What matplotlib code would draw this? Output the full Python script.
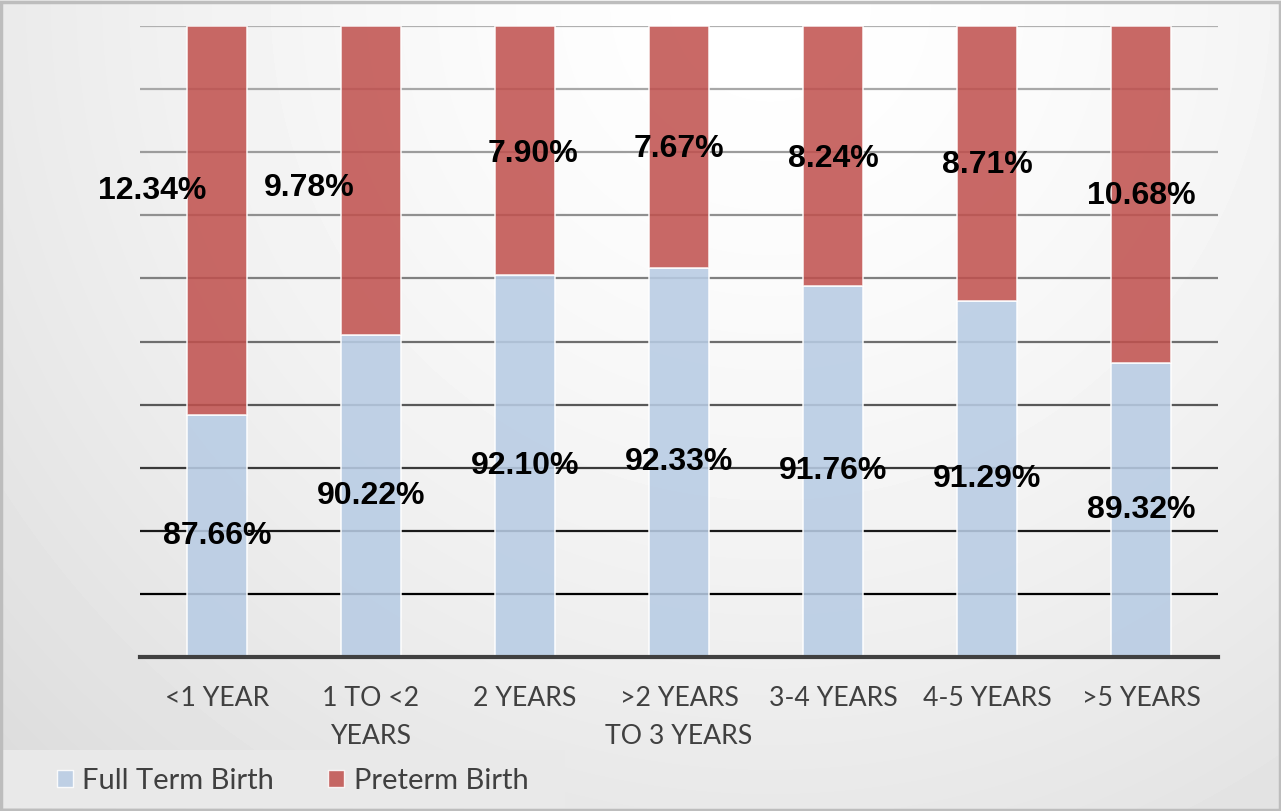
import numpy as np
import matplotlib.pyplot as plt
from matplotlib.patches import Rectangle, Patch

categories = ["<1 YEAR", "1 TO <2\nYEARS", "2 YEARS", ">2 YEARS\nTO 3 YEARS",
              "3-4 YEARS", "4-5 YEARS", ">5 YEARS"]
full_term = [87.66, 90.22, 92.10, 92.33, 91.76, 91.29, 89.32]
preterm = [12.34, 9.78, 7.90, 7.67, 8.24, 8.71, 10.68]

# petits décalages des étiquettes "preterm" (comme sur l'original)
pre_dx = [-0.42, -0.40, 0.05, 0.0, 0.0, 0.0, 0.0]
pre_dy = [0.95, -0.25, -0.1, -0.05, -0.1, -0.05, -0.05]

W, H = 1281, 811
fig = plt.figure(figsize=(W / 100, H / 100), dpi=100)

# fond dégradé
bg = fig.add_axes([0, 0, 1, 1], zorder=-10)
yy, xx = np.mgrid[0:H, 0:W]
d = np.sqrt((xx - 770.0) ** 2 + (yy - 0.0) ** 2) / 1000.0
v = np.clip(255 - 31 * d ** 1.5, 0, 255) / 255.0
bg.imshow(v, cmap="gray", vmin=0, vmax=1, aspect="auto", interpolation="bilinear")
bg.axis("off")

# boîte de légende + cadre
fig.patches.append(Rectangle((3 / W, 3 / H), 562 / W, 58 / H, transform=fig.transFigure,
                             facecolor="#e9e9e9", edgecolor="none", zorder=-5))
fig.patches.append(Rectangle((0.001, 0.001), 0.998, 0.997, transform=fig.transFigure,
                             facecolor="none", edgecolor="#bdbdbd", lw=2.5, zorder=10))

ax = fig.add_axes([140 / W, (H - 657) / H, 1078 / W, 631 / H])
ax.patch.set_alpha(0)
x = np.arange(len(categories))
ymin, ymax = 80, 100

grid_levels = np.arange(82, 101, 2)
grid_cols = ["#000000", "#1a1a1a", "#3a3a3a", "#585858", "#6e6e6e",
             "#808080", "#909090", "#9c9c9c", "#a8a8a8", "#b0b0b0"]
for lev, c in zip(grid_levels, grid_cols):
    ax.axhline(lev, color=c, lw=1.6, zorder=0)

w = 0.39
ax.bar(x, np.array(full_term) - ymin, bottom=ymin, width=w, color="#b8cce4",
       alpha=0.88, edgecolor="white", lw=1.2, zorder=2)
ax.bar(x, preterm, bottom=full_term, width=w, color="#c0504d",
       alpha=0.86, edgecolor="white", lw=1.2, zorder=2)

lbl = dict(ha="center", va="center", fontsize=23, fontweight="bold",
           family=["Liberation Sans", "DejaVu Sans"], color="black", zorder=5)
for i in range(len(categories)):
    ax.text(x[i], (ymin + full_term[i]) / 2, f"{full_term[i]:.2f}%", **lbl)
    ax.text(x[i] + pre_dx[i], (full_term[i] + 100) / 2 + pre_dy[i],
            f"{preterm[i]:.2f}%", **lbl)

ax.set_xlim(-0.5, len(categories) - 0.5)
ax.set_ylim(ymin, ymax)
ax.set_yticks([])
ax.set_xticks(x)
ax.set_xticklabels(categories, fontsize=19.2, color="#404040", family="Lato",
                   linespacing=1.65)
ax.tick_params(axis="x", length=0, pad=21)
for s in ["top", "right", "left"]:
    ax.spines[s].set_visible(False)
ax.spines["bottom"].set_color("#404040")
ax.spines["bottom"].set_linewidth(3)
ax.spines["bottom"].set_zorder(3)

handles = [Patch(facecolor="#b8cce4", alpha=0.88, edgecolor="white", label="Full Term Birth"),
           Patch(facecolor="#c0504d", alpha=0.86, edgecolor="white", label="Preterm Birth")]
fig.legend(handles=handles, loc="center left", bbox_to_anchor=(57 / W, 30 / H),
           ncol=2, frameon=False, borderpad=0, borderaxespad=0,
           handlelength=0.55, handleheight=0.55,
           handletextpad=0.32, columnspacing=1.85, labelcolor="#404040",
           prop={"family": "Lato", "size": 21})

fig.savefig("out.png", dpi=100)
